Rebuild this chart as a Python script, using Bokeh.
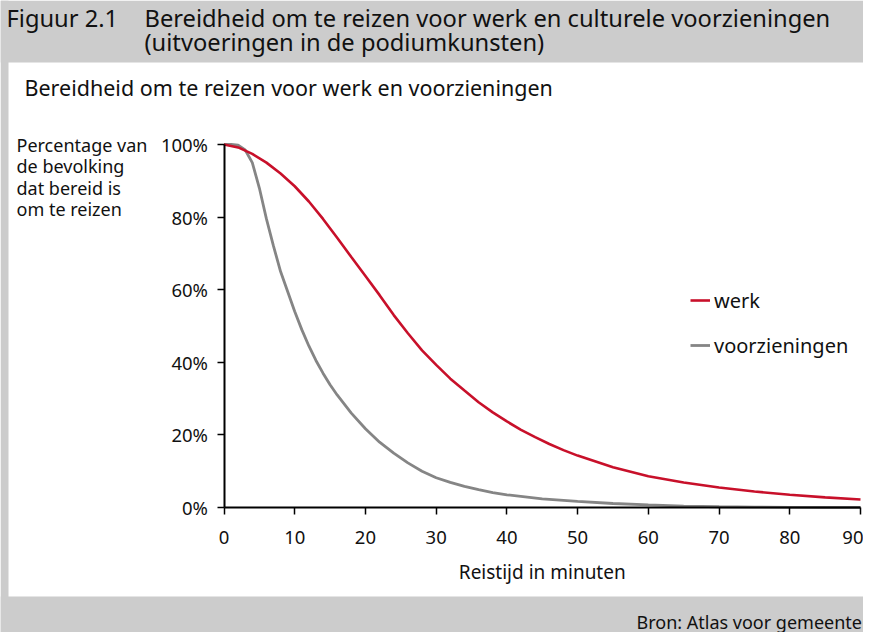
from bokeh.plotting import figure
from bokeh.models import (Range1d, FixedTicker, PrintfTickFormatter, Label, Legend,
                          LegendItem, BoxAnnotation)
from bokeh.embed import file_html
from bokeh.resources import INLINE

# ---- data ----
werk_min = [0, 2, 4, 6, 8, 10, 12, 14, 16, 18, 20, 22, 24, 26, 28, 30, 32, 34, 36, 38,
            40, 42, 44, 46, 48, 50, 55, 60, 65, 70, 75, 80, 85, 90]
werk = [100, 99.2, 97.4, 95, 92, 88.5, 84.3, 79.5, 74.3, 69, 63.8, 58.5, 53, 48, 43.3,
        39.3, 35.5, 32.2, 29, 26.2, 23.7, 21.4, 19.4, 17.5, 15.8, 14.3, 11.1, 8.6, 6.9,
        5.5, 4.4, 3.5, 2.8, 2.2]
voorz_min = [0, 1, 2, 3, 4, 5, 6, 7, 8, 9, 10, 11, 12, 13, 14, 15, 16, 18, 20, 22, 24,
             26, 28, 30, 32, 34, 36, 38, 40, 45, 50, 55, 60, 65, 70, 75, 80, 85, 90]
voorzieningen = [100, 100, 99.8, 98.5, 95, 88, 79.5, 72, 65, 59.5, 54, 49, 44.5, 40.5,
                 37, 33.8, 31, 26, 21.7, 18, 15, 12.3, 10, 8.2, 6.9, 5.8, 4.9, 4.1, 3.5,
                 2.4, 1.7, 1.1, 0.7, 0.4, 0.2, 0.1, 0.05, 0, 0]
x_ticks = [0, 10, 20, 30, 40, 50, 60, 70, 80, 90]
y_ticks = [0, 20, 40, 60, 80, 100]
series_names = ["werk", "voorzieningen"]

title_num = "Figuur 2.1"
title_line1 = "Bereidheid om te reizen voor werk en culturele voorzieningen"
title_line2 = "(uitvoeringen in de podiumkunsten)"
subtitle = "Bereidheid om te reizen voor werk en voorzieningen"
y_label_lines = ["Percentage van", "de bevolking", "dat bereid is", "om te reizen"]
x_label = "Reistijd in minuten"
source_text = "Bron: Atlas voor gemeenten"

FONT = "Noto Sans"
GREY_BG = "#cccccc"
RED = "#c8102a"
GREY_LINE = "#858585"
TXT = "#111111"

# ---- layout constants (pixels) ----
W, H = 863, 632
PX0, PX90 = 223.5, 860.0      # x pixel of 0 and 90 minutes
PY100, PY0 = 144.0, 507.0     # y pixel of 100% and 0%
HEAD_BOTTOM, FOOT_TOP, STRIP_RIGHT = 62, 596, 8
SX = (PX90 - PX0) / 90.0
SY = (PY0 - PY100) / 100.0


def xdat(px):
    return (px - PX0) / SX


def ydat(py):
    return (PY0 - py) / SY


p = figure(width=W, height=H, output_backend="svg", toolbar_location=None,
           x_range=Range1d(xdat(0), xdat(W)), y_range=Range1d(ydat(H), ydat(0)),
           min_border=0, background_fill_color="white", border_fill_color="white",
           outline_line_color=None)
p.grid.visible = False

# grey page bands
for kw in (dict(bottom=ydat(HEAD_BOTTOM)),
           dict(top=ydat(FOOT_TOP)),
           dict(right=xdat(STRIP_RIGHT))):
    p.add_layout(BoxAnnotation(fill_color=GREY_BG, fill_alpha=1, line_color=None,
                               level="underlay", **kw))

r_v = p.line(voorz_min, voorzieningen, line_color=GREY_LINE, line_width=2.8)
r_w = p.line(werk_min, werk, line_color=RED, line_width=2.6)

for ax, b in ((p.xaxis[0], (0, 90)), (p.yaxis[0], (0, 100))):
    ax.fixed_location = 0
    ax.bounds = b
    ax.axis_line_color = "black"
    ax.axis_line_width = 2
    ax.major_tick_line_color = "black"
    ax.major_tick_line_width = 1.5
    ax.major_tick_out = 7
    ax.major_tick_in = 0
    ax.minor_tick_line_color = None
    ax.major_label_text_font = FONT
    ax.major_label_text_font_size = "18.5px"
    ax.major_label_text_color = TXT

p.yaxis.major_label_standoff = 9
p.xaxis.major_label_standoff = 16
p.xaxis.ticker = FixedTicker(ticks=x_ticks)
p.yaxis.ticker = FixedTicker(ticks=y_ticks)
p.yaxis.formatter = PrintfTickFormatter(format="%d%%")


def text(txt, px, baseline_py, size):
    # screen units: measured from the frame's bottom-left corner
    p.add_layout(Label(x=px, y=H - baseline_py + 0.3 * size, x_units="screen",
                       y_units="screen", text=txt, text_font=FONT,
                       text_font_size=f"{size}px", text_color=TXT,
                       text_baseline="alphabetic"))


text(title_num, 6, 25, 23.7)
text(title_line1, 144, 25, 23.7)
text(title_line2, 144, 49, 23.7)
text(subtitle, 24, 93, 21.5)
for line, base in zip(y_label_lines, [150, 171, 193, 214]):
    text(line, 16, base, 18)
p.add_layout(Label(x=(PX0 + PX90) / 2, y=H - 571, x_units="screen",
                   y_units="screen", text=x_label, text_font=FONT,
                   text_font_size="19px", text_color=TXT, text_align="center",
                   text_baseline="middle"))
text(source_text, 636, 627, 18)

legend = Legend(items=[LegendItem(label=series_names[0], renderers=[r_w]),
                       LegendItem(label=series_names[1], renderers=[r_v])],
                location=(690, H - 358.5), border_line_color=None,
                background_fill_alpha=0, padding=0, margin=0, spacing=18,
                glyph_width=20, glyph_height=20, label_height=20, label_standoff=4,
                label_text_font=FONT, label_text_font_size="20px",
                label_text_color=TXT)
p.add_layout(legend, "center")

open("out.html", "w").write(file_html(p, INLINE))
